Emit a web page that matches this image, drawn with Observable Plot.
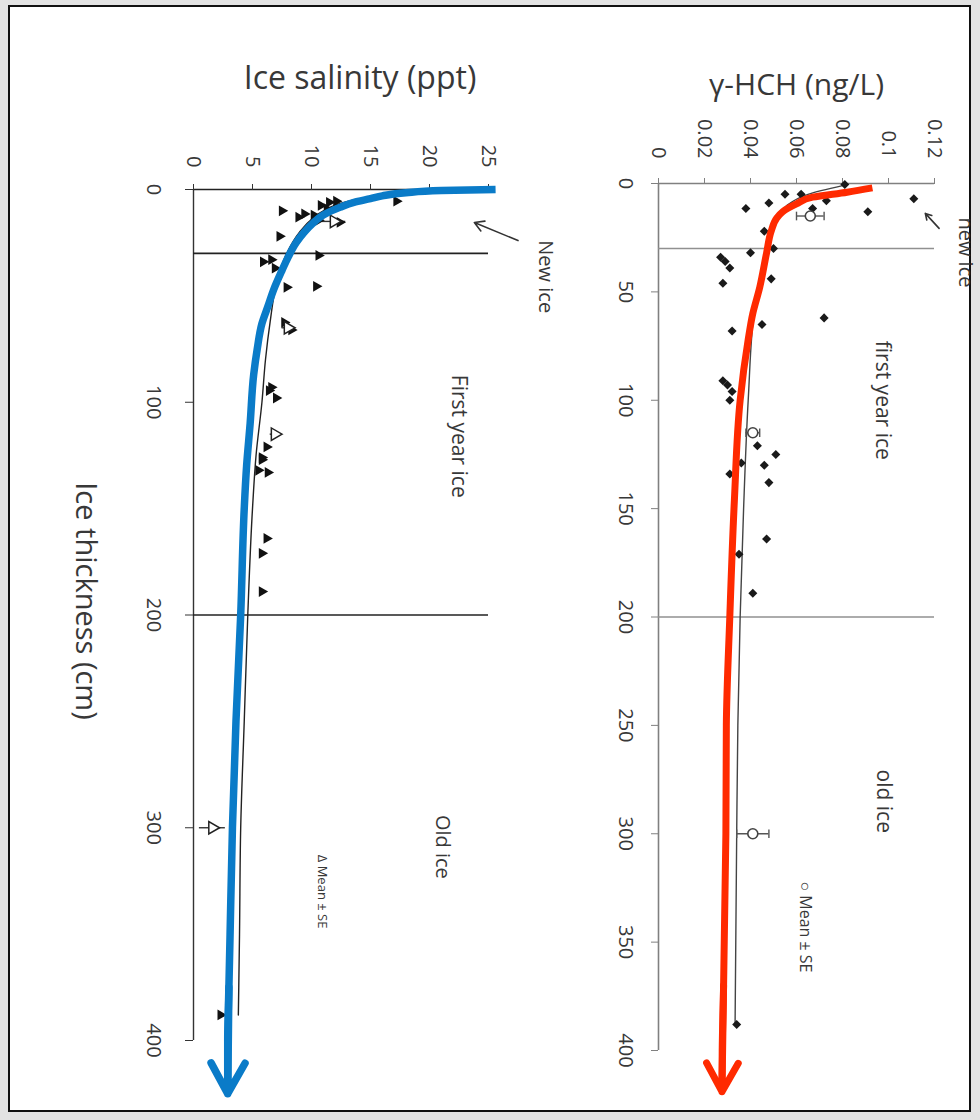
<!DOCTYPE html>
<html>
<head>
<meta charset="utf-8">
<script src="https://cdn.jsdelivr.net/npm/d3@7"></script>
<script src="https://cdn.jsdelivr.net/npm/@observablehq/plot@0.6"></script>
<style>
  html, body { margin: 0; padding: 0; background: #e3e3e3; }
  #page { position: relative; width: 980px; height: 1120px; overflow: hidden; background: #e3e3e3; }
  #frame { position: absolute; left: 8px; top: 5px; width: 959px; height: 1103px; border: 2.5px solid #111; background: #fff; }
  .panel { position: absolute; top: 0; }
</style>
</head>
<body>
<div id="page">
  <div id="frame"></div>
  <div id="salinity" class="panel" style="left:0px"></div>
  <div id="hch" class="panel" style="left:560px"></div>
</div>
<script>
// ---------- γ-HCH panel (right) ----------
const hchTicks = [0, 0.02, 0.04, 0.06, 0.08, 0.1, 0.12];
const hchTickLabels = ["0", "0.02", "0.04", "0.06", "0.08", "0.1", "0.12"];
const hchThicknessTicks = [0, 50, 100, 150, 200, 250, 300, 350, 400];
const iceBoundaries = [30, 200];

const hchSampleThickness = [0.5, 7, 13, 5, 5, 8, 9, 11.5, 11.5, 22, 32, 30, 34, 36, 39, 46, 44, 62, 65, 68, 91, 93, 96, 100, 121, 125, 130, 129, 134, 138, 164, 171, 189, 388];
const hchSampleValue     = [0.081, 0.111, 0.091, 0.055, 0.062, 0.073, 0.048, 0.038, 0.067, 0.046, 0.040, 0.050, 0.027, 0.029, 0.031, 0.028, 0.049, 0.072, 0.045, 0.032, 0.028, 0.030, 0.032, 0.031, 0.043, 0.051, 0.046, 0.036, 0.031, 0.048, 0.047, 0.035, 0.041, 0.034];

const hchMeanThickness = [15, 115, 300];
const hchMeanValue     = [0.066, 0.041, 0.041];
const hchMeanSE        = [0.006, 0.003, 0.007];

const hchFitThickness = [1, 5, 10, 20, 35, 55, 100, 150, 200, 250, 300, 388];
const hchFitValue     = [0.080, 0.065, 0.056, 0.050, 0.046, 0.042, 0.039, 0.037, 0.0355, 0.0345, 0.034, 0.0333];

const redArrowThickness = [2, 4, 6.3, 9.4, 13, 16, 22, 32, 48, 60, 72, 100, 146, 200, 250, 300, 370, 400, 419];
const redArrowValue     = [0.093, 0.082, 0.067, 0.060, 0.054, 0.0514, 0.049, 0.047, 0.044, 0.041, 0.039, 0.0355, 0.033, 0.031, 0.0295, 0.0293, 0.0283, 0.0277, 0.0276];

const hchNotes = [
  {label: "new ice", t: 31.8, v: 0.1335, size: 20},
  {label: "first year ice", t: 100, v: 0.0974, size: 21},
  {label: "old ice", t: 285, v: 0.0978, size: 21},
  {label: "○ Mean ± SE", t: 343, v: 0.0636, size: 16}
];
const hchNoteArrow = [{t1: 20.7, v1: 0.122, t2: 13.8, v2: 0.116}];

// ---------- Ice salinity panel (left) ----------
const salTicks = [0, 5, 10, 15, 20, 25];
const salThicknessTicks = [0, 100, 200, 300, 400];

const salSampleThickness = [5.5, 10, 13, 11.5, 12, 7.5, 6, 5.5, 9, 14.5, 15.4, 22, 31, 34, 33, 37, 46, 45.5, 62.5, 66, 93, 98, 94.5, 121, 126, 127, 133, 132, 164, 171, 189, 388];
const salSampleValue     = [17.2, 7.5, 8.9, 9.4, 10.2, 10.8, 11.5, 12.1, 11.3, 10.6, 12.4, 7.3, 10.6, 5.9, 6.6, 6.9, 7.9, 10.4, 7.7, 8.3, 6.6, 7.0, 6.4, 6.2, 5.8, 5.8, 6.3, 5.5, 6.2, 5.8, 5.8, 2.3];

const salMeanThickness = [15, 65, 115, 300];
const salMeanValue     = [11.9, 8.0, 6.9, 1.6];
const salMeanSE        = [1.0, 0.5, 0.4, 1.1];

const salFitThickness = [2, 5, 10, 15, 20, 30, 45, 62, 80, 100, 125, 150, 200, 250, 300, 350, 388];
const salFitValue     = [17, 13.5, 11, 9.8, 9, 7.9, 7.0, 6.5, 6.1, 5.8, 5.3, 5.0, 4.6, 4.3, 4.0, 3.9, 3.8];

const blueArrowThickness = [0, 0.5, 1.5, 3, 4.3, 6, 8.4, 12, 16, 20, 25, 32, 38, 47, 55, 63, 75, 87, 110, 130, 150, 200, 250, 300, 350, 375, 400, 425];
const blueArrowValue     = [25.6, 21, 18, 16, 15, 13.6, 12.4, 11, 10.1, 9.4, 8.7, 8.0, 7.5, 6.8, 6.3, 5.8, 5.4, 5.1, 4.8, 4.5, 4.3, 4.0, 3.6, 3.3, 3.1, 3.0, 2.9, 2.9];

const salNotes = [
  {label: "New ice", t: 41, s: 29.8, size: 20},
  {label: "First year ice", t: 116, s: 22.5, size: 21},
  {label: "Old ice", t: 309, s: 21.1, size: 20},
  {label: "Δ Mean ± SE", t: 330, s: 10.9, size: 13}
];
const salNoteArrow = [{t1: 24, s1: 27.5, t2: 15.5, s2: 23.8}];

// ---------- helpers ----------
const zip = (ts, vs) => ts.map((t, i) => ({t, v: vs[i]}));
const FONT = "Open Sans, sans-serif";
const TXT = "#383838";

// ---------- γ-HCH plot ----------
const hchSamples = zip(hchSampleThickness, hchSampleValue);
const hchMeans = hchMeanThickness.map((t, i) => ({t, v: hchMeanValue[i], lo: hchMeanValue[i] - hchMeanSE[i], hi: hchMeanValue[i] + hchMeanSE[i]}));
const hchFit = zip(hchFitThickness, hchFitValue);
const redArrow = zip(redArrowThickness, redArrowValue);
const redHead = [{a: redArrow[redArrow.length - 3], b: redArrow[redArrow.length - 1]}];

const hch = Plot.plot({
  width: 420, height: 1120,
  marginLeft: 98, marginRight: 46, marginTop: 183, marginBottom: 70,
  style: {background: "transparent", overflow: "visible", fontFamily: FONT, color: TXT},
  x: {domain: [0, 0.12]},
  y: {domain: [0, 400], reverse: true},
  marks: [
    Plot.ruleX([0], {stroke: "#808080", strokeWidth: 1.6}),
    Plot.ruleY([0], {stroke: "#808080", strokeWidth: 1.6}),
    Plot.ruleY(iceBoundaries, {stroke: "#909090", strokeWidth: 1.6}),
    Plot.axisX({anchor: "top", ticks: hchTicks, tickFormat: (d, i) => hchTickLabels[i], tickRotate: 90,
      textAnchor: "end", lineAnchor: "middle", tickSize: 6, tickPadding: 19, fontSize: 20, label: null, stroke: "#808080", fill: TXT}),
    Plot.axisY({anchor: "left", ticks: hchThicknessTicks, tickFormat: d => String(d), tickRotate: 90,
      textAnchor: "middle", lineAnchor: "middle", tickSize: 7, tickPadding: 26, fontSize: 20, label: null, stroke: "#808080", fill: TXT}),
    Plot.line(hchFit, {x: "v", y: "t", stroke: "#444", strokeWidth: 1.4, curve: "monotone-y"}),
    Plot.ruleY(hchMeans, {y: "t", x1: "lo", x2: "hi", stroke: "#555", strokeWidth: 1.4}),
    Plot.link(hchMeans, {x1: "lo", x2: "lo", y1: d => d.t - 2, y2: d => d.t + 2, stroke: "#555", strokeWidth: 1.4}),
    Plot.link(hchMeans, {x1: "hi", x2: "hi", y1: d => d.t - 2, y2: d => d.t + 2, stroke: "#555", strokeWidth: 1.4}),
    Plot.dot(hchSamples, {x: "v", y: "t", symbol: "square", rotate: 45, r: 3.6, fill: "#1a1a1a", stroke: "none"}),
    Plot.dot(hchMeans, {x: "v", y: "t", symbol: "circle", r: 5, fill: "white", stroke: "#444", strokeWidth: 1.6}),
    Plot.line(redArrow, {x: "v", y: "t", stroke: "#ff2a00", strokeWidth: 7, curve: "monotone-y", strokeLinecap: "butt"}),
    Plot.arrow(redHead, {x1: d => d.a.v, y1: d => d.a.t, x2: d => d.b.v, y2: d => d.b.t, stroke: "#ff2a00", strokeWidth: 7, headLength: 7, headAngle: 58}),
    Plot.text(["γ-HCH (ng/L)"], {frameAnchor: "top", lineAnchor: "middle", textAnchor: "middle", dy: -98, fontSize: 30, fill: TXT, letterSpacing: "0.5px"}),
    ...hchNotes.map(n => Plot.text([n], {x: "v", y: "t", text: "label", rotate: 90, fontSize: n.size, fill: TXT})),
    Plot.arrow(hchNoteArrow, {x1: "v1", y1: "t1", x2: "v2", y2: "t2", stroke: "#333", strokeWidth: 1.6, headLength: 9})
  ]
});
document.getElementById("hch").appendChild(hch);

// ---------- Salinity plot ----------
const salSamples = zip(salSampleThickness, salSampleValue);
const salMeans = salMeanThickness.map((t, i) => ({t, v: salMeanValue[i], lo: salMeanValue[i] - salMeanSE[i], hi: salMeanValue[i] + salMeanSE[i]}));
const salFit = zip(salFitThickness, salFitValue);
const blueArrow = zip(blueArrowThickness, blueArrowValue);
const blueHead = [{a: blueArrow[blueArrow.length - 3], b: blueArrow[blueArrow.length - 1]}];

const sal = Plot.plot({
  width: 560, height: 1120,
  marginLeft: 193, marginRight: 72, marginTop: 189, marginBottom: 80,
  style: {background: "transparent", overflow: "visible", fontFamily: FONT, color: TXT},
  x: {domain: [0, 25]},
  y: {domain: [0, 400], reverse: true},
  marks: [
    Plot.ruleX([0], {stroke: "#333", strokeWidth: 1.4}),
    Plot.ruleY([0], {stroke: "#222", strokeWidth: 1.6}),
    Plot.ruleY(iceBoundaries, {stroke: "#222", strokeWidth: 1.6}),
    Plot.axisX({anchor: "top", ticks: salTicks, tickFormat: d => String(d), tickRotate: 90,
      textAnchor: "end", lineAnchor: "middle", tickSize: 6, tickPadding: 16, fontSize: 20, label: null, stroke: "#333", fill: TXT}),
    Plot.axisY({anchor: "left", ticks: salThicknessTicks, tickFormat: d => String(d), tickRotate: 90,
      textAnchor: "middle", lineAnchor: "middle", tickSize: 8, tickPadding: 32, fontSize: 20, label: null, stroke: "#333", fill: TXT}),
    Plot.line(salFit, {x: "v", y: "t", stroke: "#222", strokeWidth: 1.4, curve: "monotone-y"}),
    Plot.ruleY(salMeans, {y: "t", x1: "lo", x2: "hi", stroke: "#333", strokeWidth: 1.4}),
    Plot.dot(salSamples, {x: "v", y: "t", symbol: "triangle", rotate: 90, r: 4, fill: "#111", stroke: "none"}),
    Plot.dot(salMeans, {x: "v", y: "t", symbol: "triangle", rotate: 90, r: 4.6, fill: "white", stroke: "#222", strokeWidth: 1.5}),
    Plot.line(blueArrow, {x: "v", y: "t", stroke: "#0a7bc8", strokeWidth: 7.5, curve: "monotone-y", strokeLinecap: "butt"}),
    Plot.arrow(blueHead, {x1: d => d.a.v, y1: d => d.a.t, x2: d => d.b.v, y2: d => d.b.t, stroke: "#0a7bc8", strokeWidth: 7.5, headLength: 7, headAngle: 58}),
    Plot.text(["Ice salinity (ppt)"], {frameAnchor: "top", lineAnchor: "middle", textAnchor: "middle", dx: 19, dy: -111, fontSize: 32, fill: TXT}),
    Plot.text(["Ice thickness (cm)"], {frameAnchor: "left", lineAnchor: "middle", textAnchor: "middle", dx: -108, dy: -14, rotate: 90, fontSize: 29, fill: TXT}),
    ...salNotes.map(n => Plot.text([n], {x: "s", y: "t", text: "label", rotate: 90, fontSize: n.size, fill: TXT})),
    Plot.arrow(salNoteArrow, {x1: "s1", y1: "t1", x2: "s2", y2: "t2", stroke: "#333", strokeWidth: 1.6, headLength: 10})
  ]
});
document.getElementById("salinity").appendChild(sal);
</script>
</body>
</html>
